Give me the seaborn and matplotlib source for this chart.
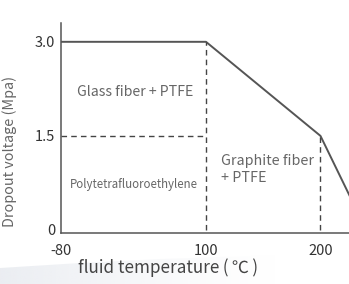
import numpy as np
import matplotlib
matplotlib.use("Agg")
import matplotlib.pyplot as plt
from matplotlib.patches import Polygon
import matplotlib.colors as mcolors
import seaborn as sns
import pandas as pd

# data
temps = [-80, 100, 200, 240]
voltage = [3.0, 3.0, 1.5, 0.0]
xticks = [-80, 100, 200]
xtick_labels = ["-80", "100", "200"]
yticks = [0, 1.5, 3.0]
ytick_labels = ["0", "1.5", "3.0"]
split_temps = [100, 200]
split_volt = 1.5

sns.set_style("white")
plt.rcParams['font.family'] = ['Noto Sans CJK SC', 'DejaVu Sans']

W, H = 349, 284
fig = plt.figure(figsize=(W / 100, H / 100), dpi=100)

# faint decorative swoosh at the bottom left, fading out to the right
bg = fig.add_axes([0, 0, 1, 1], zorder=-1)
bg.set_xlim(0, W)
bg.set_ylim(H, 0)
bg.axis("off")
rgba = np.zeros((1, 256, 4))
rgba[..., :3] = mcolors.to_rgb("#e8ebf0")
rgba[..., 3] = np.linspace(0.9, 0, 256) ** 1.3
img = bg.imshow(rgba, extent=[0, 280, H, 250], aspect="auto", interpolation="bilinear")
pts = [(0, 268), (80, 263), (160, 259), (280, 255), (280, H), (0, H)]
clip = Polygon(pts, closed=True, transform=bg.transData, facecolor="none", edgecolor="none")
bg.add_patch(clip)
img.set_clip_path(clip)

ax = fig.add_axes([61 / W, 1 - 233 / H, 288 / W, 210 / H])
ax.patch.set_alpha(0)


# the x axis in the picture is not linear: -80..100 is wider per degree than 100..200
def fwd(x):
    x = np.asarray(x, dtype=float)
    return np.where(x <= 100, (x + 80) * 145 / 180, 145 + (x - 100) * 1.145)


def inv(p):
    p = np.asarray(p, dtype=float)
    return np.where(p <= 145, p * 180 / 145 - 80, 100 + (p - 145) / 1.145)


ax.set_xscale('function', functions=(fwd, inv))

df = pd.DataFrame({"temp": temps, "volt": voltage})
sns.lineplot(data=df, x="temp", y="volt", color="#555555", lw=1.4, ax=ax)

# dashed region borders
dash = dict(color="#444444", lw=1.0, ls=(0, (4, 3)))
ax.plot([split_temps[0], split_temps[0]], [0, voltage[1]], **dash)
ax.plot([split_temps[1], split_temps[1]], [0, split_volt], **dash)
ax.plot([temps[0], split_temps[0]], [split_volt, split_volt], **dash)

ax.set_xlim(-80, 224.9)
ax.set_ylim(-0.048, 3.30)
ax.set_xticks(xticks)
ax.set_xticklabels(xtick_labels)
ax.set_yticks(yticks)
ax.set_yticklabels(ytick_labels)
ax.tick_params(length=0, labelsize=10.5, labelcolor="#333333")
ax.tick_params(axis='x', pad=8)
ax.tick_params(axis='y', pad=4)

for s in ["top", "right"]:
    ax.spines[s].set_visible(False)
for s in ["left", "bottom"]:
    ax.spines[s].set_color("#555555")
    ax.spines[s].set_linewidth(1.1)

ax.set_ylabel("Dropout voltage (Mpa)", fontsize=10.3, color="#666666")
ax.yaxis.set_label_coords(-0.153, 0.39)
ax.set_xlabel("fluid temperature\u2009(\u2009℃\u2009)", fontsize=12.3, color="#444444")
ax.xaxis.set_label_coords(0.372, -0.12)

ax.text(12, 2.2, "Glass fiber + PTFE", ha="center", va="center", fontsize=10.2, color="#666666")
ax.text(11, 0.72, "Polytetrafluoroethylene", ha="center", va="center", fontsize=8.3, color="#666666")
ax.text(113, 0.97, "Graphite fiber\n+ PTFE", ha="left", va="center", fontsize=10.3,
        color="#666666", linespacing=1.25)

fig.savefig("out.png", dpi=100)
